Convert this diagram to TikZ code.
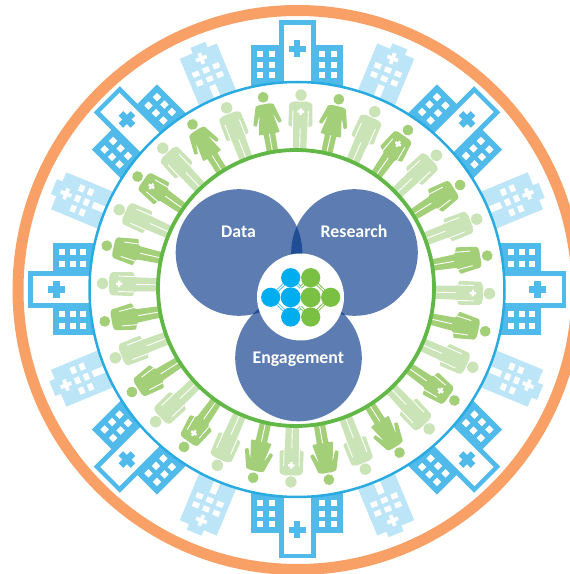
\documentclass[tikz,border=0pt]{standalone}
\usepackage{fontspec}
\setmainfont{Carlito}
\definecolor{orangering}{HTML}{F9A066}
\definecolor{bluering}{HTML}{29ABE2}
\definecolor{greenring}{HTML}{62B846}
\definecolor{hospblue}{HTML}{50BAEA}
\definecolor{hosplight}{HTML}{BDE5F8}
\definecolor{pdark}{HTML}{A3CF78}
\definecolor{plight}{HTML}{CBE4B7}
\definecolor{venn}{HTML}{5D7DB2}
\definecolor{vennlens}{HTML}{1F4E96}
\definecolor{molblue}{HTML}{00AEEF}
\definecolor{molgreen}{HTML}{7AC143}
\tikzset{
  wgap/.style={white,line width=0.9pt},
  label/.style={text=white,font=\bfseries\fontsize{17.8}{20}\selectfont,inner sep=0pt},
}
\newcommand{\crossmark}[5]{% x y span thick colour
  \fill[#5] (#1-#3/2,#2-#4/2) rectangle (#1+#3/2,#2+#4/2);
  \fill[#5] (#1-#4/2,#2-#3/2) rectangle (#1+#4/2,#2+#3/2);}
\newcommand{\bighosp}{%
  \fill[hospblue] (-18.5,190) -- (-18.5,269) -- (18.5,269) -- (18.5,190) -- cycle;
  \fill[hospblue] (-46,190) rectangle (46,244);
  \fill[white] (-13.5,190) rectangle (13.5,264.5);
  \crossmark{0}{240.5}{17}{6.5}{hospblue}
  \foreach \wx in {-37,-25,25,37}
    \foreach \wy in {235,224.5,214}
      \fill[white] (\wx-3,\wy-3) rectangle (\wx+3,\wy+3);
}
\newcommand{\smallhosp}{%
  \fill[hosplight] (-20,198) -- (-20,258) -- (-6,258) -- (-6,264) -- (10,264) -- (10,258) -- (20,258) -- (20,198) -- cycle;
  \crossmark{0}{250}{11.5}{3.8}{white}
  \foreach \wx in {-11,0,11}
    \foreach \wy in {237.6,228}
      \fill[white] (\wx-3.4,\wy-2.7) rectangle (\wx+3.4,\wy+2.7);
  \fill[white] (-3.3,208) rectangle (3.3,221);
}
\newcommand{\straightman}[1]{%
  \fill[#1] (0,193.5) circle (5.7);
  \fill[#1,rounded corners=1.2pt] (-7,187) -- (7,187) -- (11.5,185) -- (12,162.5) -- (8.5,162) -- (7,161) -- (6.5,134) -- (-6.5,134) -- (-7,161) -- (-8.5,162) -- (-12,162.5) -- (-11.5,185) -- cycle;
  \draw[wgap] (7.7,178) -- (7.7,161);
  \draw[wgap] (-7.7,178) -- (-7.7,161);
  \draw[wgap] (0,160) -- (0,134);
}
\newcommand{\flaredman}[1]{%
  \fill[#1] (0,194) circle (5.4);
  \fill[#1,rounded corners=1pt] (-7,187) -- (7,187) -- (10.5,185.5) -- (13.5,164.5) -- (10,163.5) -- (6.8,162) -- (5.6,134) -- (-5.6,134) -- (-6.8,162) -- (-10,163.5) -- (-13.5,164.5) -- (-10.5,185.5) -- cycle;
  \draw[wgap] (7.4,178) -- (8.8,162.5);
  \draw[wgap] (-7.4,178) -- (-8.8,162.5);
  \draw[wgap] (0,160) -- (0,134);
}
\newcommand{\woman}[1]{%
  \fill[#1] (0,194) circle (5.4);
  \fill[#1,rounded corners=0.8pt] (-5,187) -- (5,187) -- (9,186) -- (14.5,167.5) -- (11.2,166) -- (6.8,177) -- (10.5,157) -- (5.8,157) -- (5.6,134) -- (-5.6,134) -- (-5.8,157) -- (-10.5,157) -- (-6.8,177) -- (-11.2,166) -- (-14.5,167.5) -- (-9,186) -- cycle;
  \draw[wgap] (0,157) -- (0,134);
}
\newcommand{\chestcross}{\crossmark{0}{177}{6.5}{2.4}{white}}
\begin{document}
\begin{tikzpicture}[x=1pt,y=1pt]
\useasboundingbox (0,0) rectangle (570,574);
\clip (0,0) rectangle (570,574);
\fill[white] (0,0) rectangle (570,574);
% outer ring
\draw[orangering,line width=11pt] (297.5,284) circle (279.5);
% hospitals
\foreach \a in {0,45,...,315}
  \begin{scope}[shift={(297,284.5)},rotate=\a]\bighosp\end{scope};
\foreach \a in {22.5,67.5,...,337.5}
  \begin{scope}[shift={(297,284.5)},rotate=\a]\smallhosp\end{scope};
% middle ring
\draw[bluering,fill=white,line width=2.5pt] (297,284.5) circle (207.5);
% people: angles clockwise from the top, ring turned by 1.5 degrees
\foreach \a in {22.5,45,67.5,112.5,135,157.5,202.5,225,247.5,292.5,315,337.5}
  \begin{scope}[shift={(296,285.5)},rotate=-\a-1.5]\straightman{plight}\end{scope};
\foreach \a in {0,90,180,270}
  \begin{scope}[shift={(296,285.5)},rotate=-\a-1.5]\straightman{plight}\chestcross\end{scope};
\foreach \a in {56.25,78.75,101.25,236.25,258.75,281.25}
  \begin{scope}[shift={(296,285.5)},rotate=-\a-1.5]\flaredman{pdark}\end{scope};
\foreach \a in {33.75,123.75,213.75,303.75}
  \begin{scope}[shift={(296,285.5)},rotate=-\a-1.5]\flaredman{pdark}\chestcross\end{scope};
\foreach \a in {11.25,146.25,168.75,191.25,326.25,348.75}
  \begin{scope}[shift={(296,285.5)},rotate=-\a-1.5]\woman{pdark}\end{scope};
% inner ring
\draw[greenring,fill=white,line width=3.8pt] (296,286) circle (138);
% Venn
\fill[venn] (239,321.5) circle (63.3);
\fill[venn] (354.5,321.5) circle (63.3);
\fill[venn] (298.5,216) circle (63.3);
\begin{scope}\clip (239,321.5) circle (63.3);\fill[vennlens] (354.5,321.5) circle (63.3);\end{scope}
\begin{scope}\clip (239,321.5) circle (63.3);\fill[vennlens] (298.5,216) circle (63.3);\end{scope}
\begin{scope}\clip (354.5,321.5) circle (63.3);\fill[vennlens] (298.5,216) circle (63.3);\end{scope}
\fill[white] (300.5,277) circle (43.5);
% molecule
\coordinate (bt) at (290.7,296.3); \coordinate (bl) at (270.7,276.7);
\coordinate (bc) at (290.7,276.7); \coordinate (bb) at (290.7,257);
\coordinate (gt) at (310.7,296.3); \coordinate (gr) at (330.7,276.7);
\coordinate (gc) at (310.7,276.7); \coordinate (gb) at (310.7,257);
\coordinate (mt) at (300.7,286.5); \coordinate (mb) at (300.7,266.8);
\draw[molblue!70,line width=3pt,line join=round] (mt) -- (bt) -- (bl) -- (bb) -- (mb);
\draw[white,line width=1.1pt,line join=round] (mt) -- (bt) -- (bl) -- (bb) -- (mb);
\draw[molgreen,line width=3pt,line join=round] (mt) -- (gt) -- (gr) -- (gb) -- (mb);
\draw[white,line width=1.1pt,line join=round] (mt) -- (gt) -- (gr) -- (gb) -- (mb);
\foreach \p in {bt,bl,bb} \fill[molblue] (\p) circle (9.6);
\foreach \p in {gt,gr,gb} \fill[molgreen] (\p) circle (9.6);
\fill[molblue] (bc) circle (10);
\fill[molgreen] (gc) circle (10);
% labels
\node[label] (data) at (238.5,342.5) {Data};
\node[label] (research) at (354,342.5) {Research};
\node[label] (engagement) at (298.3,215) {Engagement};
\end{tikzpicture}
\end{document}
